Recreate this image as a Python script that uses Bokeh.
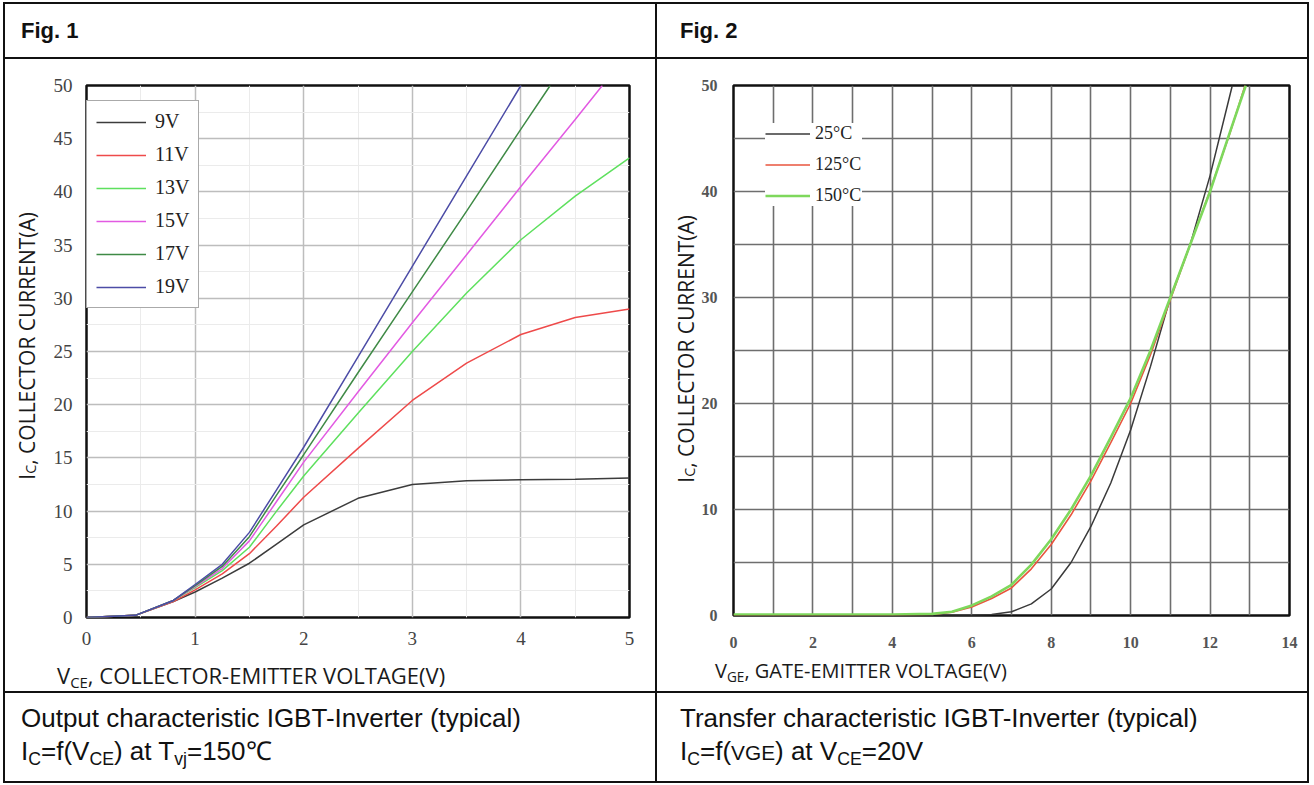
from bokeh.plotting import figure
from bokeh.models import Div, Legend, LegendItem, FixedTicker, Range1d
from bokeh.layouts import column, row
from bokeh.embed import file_html
from bokeh.resources import INLINE

# ---------------- Fig. 1 data : output characteristic ----------------
series1_labels = ["9V", "11V", "13V", "15V", "17V", "19V"]
vce_9v = [0, 0.45, 0.8, 1.0, 1.25, 1.5, 1.75, 2.0, 2.5, 3.0, 3.5, 4.0, 4.5, 5.0]
ic_9v = [0, 0.2, 1.5, 2.4, 3.7, 5.1, 6.9, 8.7, 11.2, 12.5, 12.85, 12.95, 13.0, 13.1]
vce_11v = [0, 0.45, 0.8, 1.0, 1.25, 1.5, 1.75, 2.0, 2.5, 3.0, 3.5, 4.0, 4.5, 5.0]
ic_11v = [0, 0.2, 1.5, 2.6, 4.1, 6.0, 8.6, 11.3, 15.9, 20.4, 23.9, 26.6, 28.2, 29.0]
vce_13v = [0, 0.45, 0.8, 1.0, 1.25, 1.5, 1.75, 2.0, 2.5, 3.0, 3.5, 4.0, 4.5, 5.0]
ic_13v = [0, 0.2, 1.6, 2.8, 4.4, 6.6, 10.0, 13.3, 19.2, 25.0, 30.5, 35.5, 39.6, 43.2]
vce_15v = [0, 0.45, 0.8, 1.0, 1.25, 1.5, 1.75, 2.0, 2.5, 3.0, 3.5, 4.0, 4.5, 4.75]
ic_15v = [0, 0.2, 1.6, 2.9, 4.6, 7.2, 10.9, 14.6, 21.2, 27.7, 34.1, 40.5, 46.8, 50.0]
vce_17v = [0, 0.45, 0.8, 1.0, 1.25, 1.5, 1.75, 2.0, 2.5, 3.0, 3.5, 4.0, 4.27]
ic_17v = [0, 0.2, 1.6, 3.0, 4.8, 7.6, 11.5, 15.3, 23.0, 30.6, 38.2, 45.9, 50.0]
vce_19v = [0, 0.45, 0.8, 1.0, 1.25, 1.5, 1.75, 2.0, 2.5, 3.0, 3.5, 4.0]
ic_19v = [0, 0.2, 1.6, 3.1, 5.0, 8.0, 12.0, 16.0, 24.5, 33.0, 41.5, 50.0]
x1_ticks = [0, 1, 2, 3, 4, 5]
y1_ticks = [0, 5, 10, 15, 20, 25, 30, 35, 40, 45, 50]

# ---------------- Fig. 2 data : transfer characteristic ----------------
series2_labels = ["25°C", "125°C", "150°C"]
vge_25 = [0, 1, 2, 3, 4, 5, 5.5, 6, 6.5, 7, 7.5, 8, 8.5, 9, 9.5, 10, 10.5, 11, 11.5, 12, 12.56]
ic_25 = [0, 0, 0, 0, 0, 0, 0, 0.02, 0.1, 0.35, 1.1, 2.5, 5.0, 8.4, 12.5, 17.5, 23.5, 30.0, 35.0, 41.5, 50.0]
vge_125 = [0, 1, 2, 3, 4, 5, 5.5, 6, 6.5, 7, 7.5, 8, 8.5, 9, 9.5, 10, 10.5, 11, 11.5, 12, 12.5, 12.88]
ic_125 = [0.05, 0.05, 0.05, 0.05, 0.05, 0.1, 0.3, 0.8, 1.6, 2.6, 4.4, 6.7, 9.5, 12.7, 16.3, 20.0, 24.6, 29.8, 35.0, 40.1, 45.5, 50.0]
vge_150 = [0, 1, 2, 3, 4, 5, 5.5, 6, 6.5, 7, 7.5, 8, 8.5, 9, 9.5, 10, 10.5, 11, 11.5, 12, 12.5, 12.9]
ic_150 = [0.1, 0.1, 0.1, 0.1, 0.1, 0.15, 0.35, 0.95, 1.8, 2.9, 4.8, 7.2, 10.0, 13.2, 16.8, 20.5, 25.0, 30.0, 35.0, 40.0, 45.6, 50.0]
x2_ticks = [0, 2, 4, 6, 8, 10, 12, 14]
x2_grid = list(range(0, 15))
y2_ticks = [0, 10, 20, 30, 40, 50]
y2_grid = [0, 5, 10, 15, 20, 25, 30, 35, 40, 45, 50]

LINE = "#111111"
SUB = "font-size:0.68em;vertical-align:-0.3em;line-height:0"
LABEL_FONT = "font-family:'Open Sans',sans-serif;color:#1a1a1a;white-space:nowrap;"

# ---------------- Figure 1 ----------------
p1 = figure(width=605, height=591, x_range=Range1d(0, 5), y_range=Range1d(0, 50),
            output_backend="svg", toolbar_location=None, margin=0,
            min_border_left=33, min_border_right=26, min_border_top=26, min_border_bottom=33)
p1.background_fill_color = "white"
p1.border_fill_color = "white"
p1.outline_line_color = "#111111"
p1.outline_line_width = 2.5
for ax in (p1.xaxis[0], p1.yaxis[0]):
    ax.axis_line_color = None
    ax.major_tick_line_color = None
    ax.minor_tick_line_color = None
    ax.major_label_text_font = "Liberation Serif"
    ax.major_label_text_font_size = "19px"
    ax.major_label_text_color = "#444444"
p1.xaxis.ticker = FixedTicker(ticks=x1_ticks)
p1.yaxis.ticker = FixedTicker(ticks=y1_ticks)
p1.xaxis.major_label_standoff = 8
p1.yaxis.major_label_standoff = 8
p1.xgrid.ticker = FixedTicker(ticks=x1_ticks, minor_ticks=[t + 0.5 for t in x1_ticks[:-1]])
p1.ygrid.ticker = FixedTicker(ticks=y1_ticks, minor_ticks=[t + 2.5 for t in y1_ticks[:-1]])
for g in (p1.xgrid[0], p1.ygrid[0]):
    g.grid_line_color = "#bdbdbd"
    g.grid_line_width = 1.5
    g.minor_grid_line_color = "#ebebeb"
    g.minor_grid_line_width = 1

colors1 = ["#3c3c3c", "#ee4a4a", "#5ee05e", "#e25ae2", "#3f8a46", "#4c4ca6"]
xs1 = [vce_9v, vce_11v, vce_13v, vce_15v, vce_17v, vce_19v]
ys1 = [ic_9v, ic_11v, ic_13v, ic_15v, ic_17v, ic_19v]
rs1 = []
for xv, yv, c in zip(xs1, ys1, colors1):
    rs1.append(p1.line(xv, yv, line_color=c, line_width=1.5))

leg1 = Legend(items=[LegendItem(label=l, renderers=[r]) for l, r in zip(series1_labels, rs1)],
              location=(0, 532 - 19 - 204), orientation="vertical", padding=9, spacing=10,
              label_height=22, glyph_height=22, glyph_width=50, label_standoff=9, label_width=33,
              label_text_font="Liberation Serif", label_text_font_size="20px",
              label_text_color="#222222", border_line_color="#555555", border_line_width=1,
              background_fill_color="white", background_fill_alpha=1.0, margin=0)
p1.add_layout(leg1)

ylab1 = Div(width=45, height=632, margin=0, styles={"background-color": "white"},
            text=f"<div style=\"position:relative;width:45px;height:632px\">"
                 f"<div style=\"position:absolute;left:12px;bottom:211px;writing-mode:vertical-rl;"
                 f"transform:rotate(180deg);font-size:21px;line-height:21px;{LABEL_FONT}\">"
                 f"I<span style=\"{SUB}\">C</span>, COLLECTOR CURRENT(A)</div></div>")
xlab1 = Div(width=605, height=41, margin=0, styles={"background-color": "white"},
            text=f"<div style=\"text-align:center;padding-left:7px;padding-top:10px;"
                 f"font-size:22px;line-height:30px;{LABEL_FONT}\">"
                 f"V<span style=\"{SUB}\">CE</span>, COLLECTOR-EMITTER VOLTAGE(V)</div>")

# ---------------- Figure 2 ----------------
p2 = figure(width=610, height=596, x_range=Range1d(0, 14), y_range=Range1d(0, 50),
            output_backend="svg", toolbar_location=None, margin=0,
            min_border_left=36, min_border_right=18, min_border_top=26, min_border_bottom=40)
p2.background_fill_color = "white"
p2.border_fill_color = "white"
p2.outline_line_color = "#111111"
p2.outline_line_width = 2.5
for ax in (p2.xaxis[0], p2.yaxis[0]):
    ax.axis_line_color = None
    ax.major_tick_line_color = None
    ax.minor_tick_line_color = None
    ax.major_label_text_font = "Liberation Serif"
    ax.major_label_text_font_size = "16px"
    ax.major_label_text_font_style = "bold"
    ax.major_label_text_color = "#555555"
p2.xaxis.ticker = FixedTicker(ticks=x2_ticks)
p2.yaxis.ticker = FixedTicker(ticks=y2_ticks)
p2.xaxis.major_label_standoff = 15
p2.yaxis.major_label_standoff = 10
p2.xgrid.ticker = FixedTicker(ticks=x2_grid)
p2.ygrid.ticker = FixedTicker(ticks=y2_grid)
for g in (p2.xgrid[0], p2.ygrid[0]):
    g.grid_line_color = "#6e6e6e"
    g.grid_line_width = 1.6

r25 = p2.line(vge_25, ic_25, line_color="#3a3a3a", line_width=1.5)
r125 = p2.line(vge_125, ic_125, line_color="#e8553e", line_width=1.6)
r150 = p2.line(vge_150, ic_150, line_color="#7ed85c", line_width=2.6)

leg2 = Legend(items=[LegendItem(label=l, renderers=[r]) for l, r in zip(series2_labels, [r25, r125, r150])],
              location=(32, 530 - 28 - 99 + 6), orientation="vertical", padding=8, spacing=10,
              label_height=21, glyph_height=21, glyph_width=45, label_standoff=5, label_width=47,
              label_text_font="Liberation Serif", label_text_font_size="18px",
              label_text_color="#222222", border_line_color=None,
              background_fill_color="white", background_fill_alpha=1.0, margin=0)
p2.add_layout(leg2)

ylab2 = Div(width=40, height=632, margin=0, styles={"background-color": "white"},
            text=f"<div style=\"position:relative;width:40px;height:632px\">"
                 f"<div style=\"position:absolute;left:19px;bottom:208px;writing-mode:vertical-rl;"
                 f"transform:rotate(180deg);font-size:21px;line-height:21px;{LABEL_FONT}\">"
                 f"I<span style=\"{SUB}\">C</span>, COLLECTOR CURRENT(A)</div></div>")
xlab2 = Div(width=610, height=36, margin=0, styles={"background-color": "white"},
            text=f"<div style=\"text-align:center;padding-left:18px;padding-top:1px;"
                 f"font-size:20px;line-height:30px;{LABEL_FONT}\">"
                 f"V<span style=\"{SUB}\">GE</span>, GATE-EMITTER VOLTAGE(V)</div>")

# ---------------- table frame ----------------


def vline(h):
    return Div(text="", width=2, height=h, margin=0, styles={"background-color": LINE})


def hline():
    return Div(text="", width=1306, height=2, margin=0, styles={"background-color": LINE})


def cell(html, h):
    return Div(text=html, width=650, height=h, margin=0, styles={"background-color": "white"})


hdr_style = "font-family:'Liberation Sans',Arial,sans-serif;font-weight:bold;font-size:22px;line-height:53px;color:#111;white-space:nowrap;"
cap_style = "font-family:'Liberation Sans',Arial,sans-serif;font-size:26px;line-height:33px;color:#111;padding-top:9px;white-space:nowrap;"

head1 = cell(f"<div style=\"{hdr_style}padding-left:16px\">Fig. 1</div>", 53)
head2 = cell(f"<div style=\"{hdr_style}padding-left:23px\">Fig. 2</div>", 53)
cap1 = cell(f"<div style=\"{cap_style}padding-left:16px\">Output characteristic IGBT-Inverter (typical)<br>"
            f"I<span style=\"{SUB}\">C</span>=f(V<span style=\"{SUB}\">CE</span>) at T<span style=\"{SUB}\">vj</span>=150℃</div>", 88)
cap2 = cell(f"<div style=\"{cap_style}padding-left:23px\">Transfer characteristic IGBT-Inverter (typical)<br>"
            f"I<span style=\"{SUB}\">C</span>=f(<span style=\"font-size:0.8em\">VGE</span>) at V<span style=\"{SUB}\">CE</span>=20V</div>", 88)

block1 = row(ylab1, column(p1, xlab1, spacing=0, margin=0), spacing=0, margin=0)
block2 = row(ylab2, column(p2, xlab2, spacing=0, margin=0), spacing=0, margin=0)

layout = column(
    hline(),
    row(vline(53), head1, vline(53), head2, vline(53), spacing=0, margin=0),
    hline(),
    row(vline(632), block1, vline(632), block2, vline(632), spacing=0, margin=0),
    hline(),
    row(vline(88), cap1, vline(88), cap2, vline(88), spacing=0, margin=0),
    hline(),
    spacing=0, margin=(2, 0, 0, 3),
)

open("out.html", "w").write(file_html(layout, INLINE))
